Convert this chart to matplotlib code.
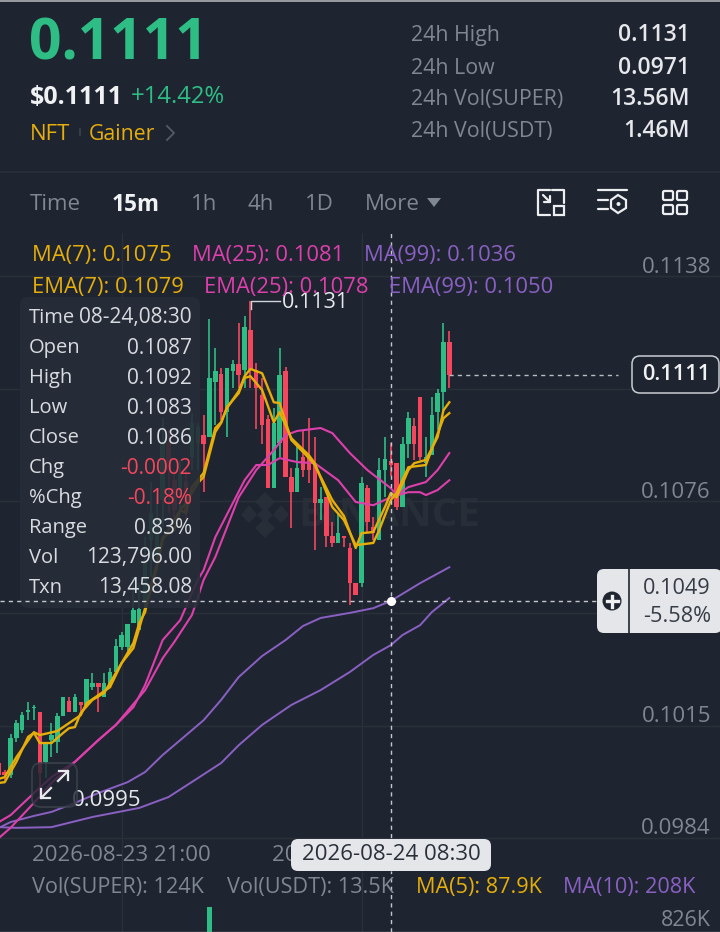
import matplotlib
matplotlib.use('Agg')
import matplotlib.pyplot as plt
from matplotlib.patches import FancyBboxPatch, Rectangle, Polygon, Circle

plt.rcParams['font.family'] = ['Open Sans', 'DejaVu Sans']

# candles, 15m
opens = [.10037, .10012, .10004, .10106, .10128, .10178, .10189, .10178, .10040, .10100,
         .10095, .10166, .10208, .10178, .10205, .10197, .10246, .10258, .10219, .10255,
         .10288, .10357, .10357, .10423, .10404, .10486, .10652, .10611, .10762, .10919,
         .10817, .10790, .10812, .10881, .10919, .10941, .10936, .11088, .11110, .11005,
         .11118, .11137, .11121, .11231, .11121, .11052, .10986, .10795, .10919, .11118,
         .10826, .10784, .10881, .10881, .10864, .10754, .10770, .10663, .10644, .10663,
         .10630, .10533, .10533, .10795, .10688, .10652, .10845, .1087, .10864, .10743,
         .10917, .10966, .11046, .10864, .10886, .11005, .11060, .11198]
highs = [.10051, .10018, .10117, .10155, .10178, .10205, .10197, .10178, .10092, .10147,
         .10175, .10219, .10219, .10227, .10205, .10269, .10285, .10258, .10285, .10299,
         .10379, .10398, .10420, .10550, .10533, .10660, .10812, .10776, .10988, .10955,
         .10845, .10873, .10845, .11002, .10975, .10997, .11261, .11181, .11126, .11126,
         .11148, .11250, .11270, .11311, .11140, .11099, .10997, .11016, .11181, .11129,
         .10850, .10919, .10955, .10988, .10936, .10798, .10770, .10702, .10726, .10663,
         .10644, .10533, .10826, .10804, .10715, .10878, .10936, .1092, .10864, .10936,
         .11005, .10988, .11046, .10936, .11046, .11068, .11250, .11228]
lows = [.09995, .09990, .09995, .10095, .10120, .10155, .10155, .09949, .09995, .10053,
        .10064, .10166, .10178, .10178, .10178, .10197, .10238, .10178, .10219, .10244,
        .10288, .10349, .10335, .10423, .10404, .10453, .10550, .10569, .10688, .10726,
        .10707, .10735, .10707, .10845, .10845, .10784, .10936, .10969, .10983, .10936,
        .11071, .11071, .11071, .11071, .10958, .10917, .10795, .10795, .10881, .10826,
        .10685, .10784, .10826, .10809, .10624, .10707, .10633, .10633, .10644, .10633,
        .10473, .10500, .10522, .10674, .10652, .10652, .10770, .1083, .10735, .10743,
        .10878, .10873, .10873, .10826, .10886, .10955, .11005, .11071]
closes = [.10004, .10004, .10106, .10147, .10169, .10183, .10191, .10009, .10092, .10114,
          .10166, .10219, .10178, .10219, .10197, .10269, .10258, .10246, .10258, .10288,
          .10360, .10390, .10420, .10459, .10462, .10588, .10726, .10707, .10919, .10845,
          .10735, .10837, .10729, .10975, .10964, .10917, .11099, .11118, .11005, .11126,
          .11137, .11107, .11239, .11121, .11071, .10969, .10795, .10975, .11107, .10826,
          .10784, .10850, .10845, .10845, .10754, .10765, .10663, .10644, .10671, .10657,
          .10533, .10500, .10809, .10702, .10671, .10845, .10875, .1086, .10743, .10917,
          .10988, .10917, .10881, .10881, .10997, .11057, .11198, .11107]

# moving averages: candle number and value
ema7_i = [0, 1, 3, 6, 7, 10, 11, 14, 15, 19, 21, 23, 24, 25, 26, 27, 28, 30, 31, 32, 33, 35, 37, 38,
          39, 41, 42, 43, 45, 47, 48, 50, 53, 54, 57, 59, 61, 62, 64, 66, 67, 68, 70, 71, 73, 75, 76, 77]
ema7 = [.09993, .09998, .10053, .10122, .10114, .10125, .10136, .10169, .10202, .10246, .10313, .10368,
        .10423, .10453, .10528, .10583, .10660, .10679, .10735, .10726, .10798, .10837, .10961, .10977,
        .11016, .11063, .11104, .11124, .11112, .11032, .11030, .10928, .10878, .10859, .10762, .10718,
        .10630, .10671, .10674, .10743, .10782, .10770, .10845, .10864, .10873, .10936, .11010, .11032]
ma7_i = [0, 1, 3, 5, 6, 7, 9, 11, 12, 13, 14, 16, 18, 21, 23, 24, 25, 26, 27, 28, 31, 32, 34, 35, 37, 38,
         39, 41, 42, 43, 45, 47, 48, 50, 53, 54, 57, 59, 61, 64, 65, 67, 68, 70, 73, 76, 77]
ma7 = [.09982, .09984, .10040, .10109, .10120, .10092, .10092, .10120, .10133, .10136, .10175, .10211,
       .10230, .10313, .10354, .10409, .10464, .10514, .10577, .10652, .10735, .10754, .10809, .10826,
       .10950, .10975, .11019, .11057, .11099, .11104, .11066, .10977, .11005, .10933, .10886, .10864,
       .10743, .10707, .10638, .10644, .10679, .10762, .10782, .10853, .10859, .10988, .11002]
ma25_i = [0, 2, 6, 9, 13, 17, 20, 25, 28, 30, 33, 35, 37, 41, 44, 47, 49, 51, 55, 57, 60, 63, 67, 68,
          70, 73, 75, 77]
ma25 = [.09830, .09858, .09927, .09982, .10040, .10100, .10142, .10238, .10326, .10371, .10445, .10542,
        .10605, .10770, .10845, .10900, .10941, .10953, .10961, .10947, .10892, .10845, .10795, .10776,
        .10798, .10812, .10845, .10892]
ema25_i = [0, 2, 6, 9, 13, 17, 20, 23, 25, 28, 31, 34, 35, 37, 42, 44, 46, 48, 51, 54, 58, 61, 64, 67,
           70, 72, 73, 75, 77]
ema25 = [.09874, .09893, .09954, .09998, .10040, .10100, .10142, .10191, .10252, .10376, .10431, .10542,
         .10569, .10660, .10817, .10859, .10859, .10878, .10867, .10864, .10817, .10757, .10748, .10770,
         .10784, .10784, .10776, .10790, .10817]
ema99_i = [0, 2, 6, 9, 13, 17, 22, 25, 28, 31, 35, 38, 41, 45, 49, 52, 55, 60, 64, 67, 72, 77]
ema99 = [.09858, .09874, .09891, .09902, .09927, .09954, .09984, .10012, .10059, .10100, .10155, .10211,
         .10274, .10332, .10376, .10415, .10437, .10451, .10464, .10484, .10533, .10577]
ma99_i = [0, 3, 9, 16, 24, 29, 34, 38, 41, 45, 50, 55, 60, 64, 67, 69, 72, 74, 77]
ma99 = [.09860, .09858, .09860, .09888, .09913, .09943, .09995, .10037, .10086, .10142, .10197, .10238,
        .10288, .10335, .10362, .10390, .10417, .10453, .10492]

# the picture's axis is not quite linear, the grid sits a little off its printed labels
grid_prices = [.1138, .1107, .10759, .10451, .10139, .0983]
price_labels = ['0.1138', '', '0.1076', '', '0.1015', '0.0984']
grid_candles = [21, 62]
date_labels = ['2026-08-23 21:00', '2026-08-24 07:00']
vol_i = [36]
vol_vals = [1200000]
last_price = .11107
cross_price = .10484
cross_i = 67
high_price = .11311

panel_names = ['Time', 'Open', 'High', 'Low', 'Close', 'Chg', '%Chg', 'Range', 'Vol', 'Txn']
panel_vals = ['08-24,08:30', '0.1087', '0.1092', '0.1083', '0.1086', '-0.0002', '-0.18%', '0.83%',
              '123,796.00', '13,458.08']
stat_names = ['24h High', '24h Low', '24h Vol(SUPER)', '24h Vol(USDT)']
stat_vals = ['0.1131', '0.0971', '13.56M', '1.46M']
tabs = ['Time', '15m', '1h', '4h', '1D', 'More']

BG = '#1f2530'
GRID = '#2a303a'
GREEN = '#2ebd85'
RED = '#f6465d'
YELLOW = '#e6ae0a'
PINK = '#dd3fac'
PURPLE = '#8a60c4'
GRAY = '#7f8792'
LIGHT = '#e6e8ec'

W, H = 720, 932
fig = plt.figure(figsize=(W / 100, H / 100), dpi=100, facecolor=BG)


def pane(top, bottom):
    ax = fig.add_axes([0, 1 - bottom / H, 1, (bottom - top) / H], zorder=1)
    ax.set_facecolor('none')
    for s in ax.spines.values():
        s.set_visible(False)
    ax.set_xlim(0.197, 123.27)
    ax.tick_params(length=0, labelleft=False, labelbottom=False)
    return ax


chart = pane(233, 871)
chart.set_ylim(.09739, .11499)
vols = pane(871, H)
vols.set_ylim(830000, 1745000)

ui = fig.add_axes([0, 0, 1, 1], zorder=3)
ui.set_xlim(0, W)
ui.set_ylim(H, 0)
ui.axis('off')

# grid
chart.set_xticks(grid_candles)
chart.set_yticks(grid_prices)
chart.grid(color=GRID, lw=1)
chart.set_axisbelow(True)
vols.set_xticks(grid_candles)
vols.set_yticks([])
vols.grid(color=GRID, lw=1)
vols.set_axisbelow(True)
for p, lab in zip(grid_prices, price_labels):
    chart.annotate(lab, xy=(1, p), xycoords=('axes fraction', 'data'), xytext=(-6.5, 6.5),
                   textcoords='offset points', ha='right', va='center', fontsize=16, color=GRAY)
for c, lab in zip(grid_candles, date_labels):
    chart.annotate(lab, xy=(c, 0), xycoords=('data', 'axes fraction'), xytext=(0, 11),
                   textcoords='offset points', ha='center', va='center', fontsize=16, color=GRAY)

# watermark
logo = [[(265, 492), (275, 502), (265, 512), (255, 502)], [(265, 518), (275, 528), (265, 538), (255, 528)],
        [(249, 505), (257, 515), (249, 523), (241, 515)], [(281, 505), (289, 515), (281, 523), (273, 515)],
        [(265, 507), (273, 515), (265, 523), (257, 515)]]
for pts in logo:
    chart.add_patch(Polygon(pts, closed=True, transform=ui.transData, fc='#282e38', ec='none', zorder=0.5))
chart.text(298, 516, 'BINANCE', transform=ui.transData, fontsize=29, fontweight='bold', color='#282e38',
           ha='left', va='center', zorder=0.5)

# candles
for i in range(len(opens)):
    col = GREEN if closes[i] >= opens[i] else RED
    chart.vlines(i, lows[i], highs[i], color=col, lw=1.2, zorder=2)
    chart.bar(i, abs(closes[i] - opens[i]), bottom=min(opens[i], closes[i]), width=0.76, color=col, zorder=2)

chart.plot(ma99_i, ma99, color=PURPLE, lw=1.4, zorder=3)
chart.plot(ema99_i, ema99, color=PURPLE, lw=1.4, zorder=3)
chart.plot(ma25_i, ma25, color=PINK, lw=1.5, zorder=3)
chart.plot(ema25_i, ema25, color=PINK, lw=1.5, zorder=3)
chart.plot(ma7_i, ma7, color=YELLOW, lw=1.7, zorder=4)
chart.plot(ema7_i, ema7, color=YELLOW, lw=1.7, zorder=4)

vols.bar(vol_i, vol_vals, width=0.76, color=GREEN)

# info panel sits over the candles but under the crosshair
chart.add_patch(FancyBboxPatch((20, 297), 180, 311, boxstyle='round,pad=0,rounding_size=8', transform=ui.transData,
                               fc='#272d38', ec='none', alpha=0.9, zorder=5))
chart.axhline(cross_price, xmax=597 / W, color='#c4c8ce', lw=1, dashes=(3, 3), zorder=6)
chart.axvline(cross_i, color='#c4c8ce', lw=1, dashes=(3, 3), zorder=6)
vols.axvline(cross_i, color='#c4c8ce', lw=1, dashes=(3, 3), zorder=6)
chart.plot([cross_i], [cross_price], 'o', color='white', ms=5.5, zorder=7)
chart.plot([len(opens) - 1, 105.8], [last_price, last_price], color='#b8bcc3', lw=1, dashes=(3, 3), zorder=6)


def txt(x, y, s, color=LIGHT, size=13.5, ha='left', weight='normal', z=5):
    ui.text(x, y + 3, s, color=color, fontsize=size, ha=ha, va='center', fontweight=weight, zorder=z)


# header
ui.plot([0, W], [1, 1], color='#9a9da2', lw=1.4)
ui.plot([0, W], [172, 172], color='#2a303a', lw=1.2)
ui.plot([0, W], [931.5, 931.5], color='#8a8e94', lw=1)
txt(29, 42, '0.1111', GREEN, 41, weight='bold')
txt(30, 94, '$0.1111', '#f0f1f3', 18, weight='bold')
txt(131, 94, '+14.42%', GREEN, 17.2)
txt(30, 131, 'NFT', YELLOW, 16)
ui.plot([80, 80], [129, 135], color='#3c424c', lw=1.2)
txt(89, 131, 'Gainer', YELLOW, 15.3)
ui.plot([167, 174, 167], [126, 133, 140], color='#555b65', lw=1.3)
for y, name, val in zip([32, 65, 96, 128], stat_names, stat_vals):
    txt(411, y, name, GRAY, 15.4)
    txt(690, y, val, LIGHT, 16.5, ha='right', weight='semibold')

# tabs
for x, name in zip([30, 112, 191, 247, 305, 365], tabs):
    if name == '15m':
        txt(x, 202, name, '#f0f1f3', 16.3, weight='bold')
    else:
        txt(x, 202, name, GRAY, 16)
ui.add_patch(Polygon([(427, 198), (441, 198), (434, 207)], fc=GRAY, ec='none'))

# toolbar icons
ic = dict(color='#eceef1', lw=1.6, solid_capstyle='round')
ui.plot([552, 564, 564], [190, 190, 203], **ic)
ui.plot([550, 538, 538, 550], [190, 190, 215, 215], **ic)
ui.plot([543, 550], [195, 202], **ic)
ui.plot([544, 550, 550], [202, 202, 196], **ic)
ui.add_patch(Rectangle((554, 206), 10, 9, fc='none', ec='#eceef1', lw=1.6))
ui.plot([598, 627], [190, 190], **ic)
ui.plot([598, 608], [200, 200], **ic)
ui.plot([598, 608], [209, 209], **ic)
ui.add_patch(Polygon([(618, 195), (626, 200), (626, 208), (618, 213), (611, 208), (611, 200)], fc='none',
                     ec='#eceef1', lw=1.6))
ui.add_patch(Circle((618.5, 204), 2, fc='#eceef1', ec='none'))
for x in [663, 677]:
    for y in [191, 205]:
        ui.add_patch(FancyBboxPatch((x, y), 10, 9, boxstyle='round,pad=0,rounding_size=1.5', fc='none',
                                    ec='#eceef1', lw=1.6))

# legends
txt(32, 252, 'MA(7): 0.1075', YELLOW, 15.8)
txt(192, 252, 'MA(25): 0.1081', PINK, 15.8)
txt(364, 252, 'MA(99): 0.1036', PURPLE, 15.8)
txt(32, 284, 'EMA(7): 0.1079', YELLOW, 15.8)
txt(204, 284, 'EMA(25): 0.1078', PINK, 15.8)
txt(389, 284, 'EMA(99): 0.1050', PURPLE, 15.8)
txt(32, 885, 'Vol(SUPER): 124K', GRAY, 15.6)
txt(227, 885, 'Vol(USDT): 13.5K', GRAY, 15.6)
txt(416, 885, 'MA(5): 87.9K', YELLOW, 15.6)
txt(563, 885, 'MA(10): 208K', PURPLE, 15.6)
txt(711, 917, '826K', GRAY, 15.5, ha='right')

# info panel text
for k, (name, val) in enumerate(zip(panel_names, panel_vals)):
    y = 315 + k * 30
    txt(29, y, name, '#d8dbe0', 14.5)
    txt(192, y, val, RED if val.startswith('-') else '#d8dbe0', 15, ha='right')

# high / low marks
ui.plot([251, 251, 280], [309, 301, 301], color='#d0d3d8', lw=1)
txt(282, 299, '0.1131', LIGHT, 15.5, z=2)
txt(72, 797, '0.0995', LIGHT, 16, z=2)

# expand button
ui.add_patch(FancyBboxPatch((32, 763), 45, 44, boxstyle='round,pad=0,rounding_size=9', fc=BG, ec='#3d444e',
                            lw=1.3, alpha=0.8, zorder=3))
ar = dict(color='#e8eaee', lw=1.6, zorder=4)
ui.plot([41, 51], [798, 788], **ar)
ui.plot([41, 41, 50], [789, 798, 798], **ar)
ui.plot([58, 68], [781, 771], **ar)
ui.plot([59, 68, 68], [771, 771, 780], **ar)

# last price box
ui.add_patch(FancyBboxPatch((632, 356), 87, 37, boxstyle='round,pad=0,rounding_size=8', fc=BG, ec='#c9ccd1', lw=1.1))
txt(676, 372, '0.1111', '#f0f1f3', 15.7, ha='center', weight='semibold')

# crosshair widget
ui.add_patch(FancyBboxPatch((597, 569), 125, 64, boxstyle='round,pad=0,rounding_size=7', fc='#e4e6ea', ec='none'))
ui.plot([629, 629], [569, 633], color='#20262f', lw=1.2)
ui.add_patch(Circle((612, 601), 9.5, fc='#20262f', ec='none'))
ui.plot([606.5, 617.5], [601, 601], color='#f0f1f3', lw=2.4)
ui.plot([612, 612], [595.5, 606.5], color='#f0f1f3', lw=2.4)
txt(711, 586, '0.1049', '#363c46', 15.6, ha='right')
txt(711, 614, '-5.58%', '#363c46', 15.6, ha='right')

# date tooltip
ui.add_patch(FancyBboxPatch((291, 839), 200, 32, boxstyle='round,pad=0,rounding_size=7', fc='#e4e6ea', ec='none'))
txt(391, 852, '2026-08-24 08:30', '#2a303a', 16, ha='center')

fig.savefig('out.png', dpi=100, facecolor=BG)
